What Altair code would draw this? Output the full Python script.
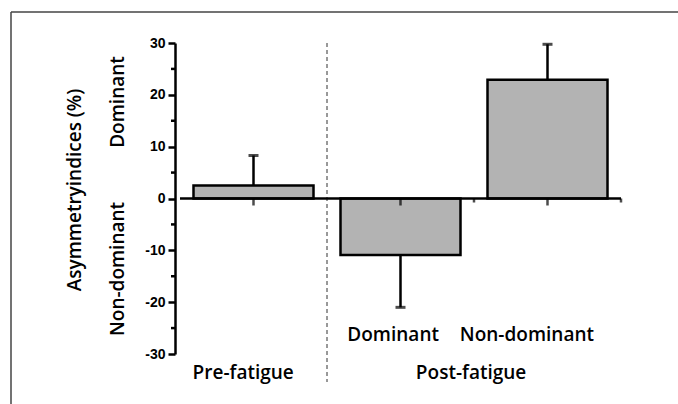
import altair as alt
import pandas as pd

# data
positions = [1, 2, 3]
groups = ["Pre-fatigue", "Post-fatigue", "Post-fatigue"]
sides = ["", "Dominant", "Non-dominant"]
values = [2.5, -10.9, 22.9]
errors = [5.8, 10.1, 6.85]
y_ticks = [-30, -20, -10, 0, 10, 20, 30]
y_minor = [-25, -15, -5, 5, 15, 25]
x_major = [1, 2, 3]
x_minor = [2.5, 3.5]
side_labels = ["Dominant", "Non-dominant"]
side_label_x = [1.95, 2.86]
group_labels = ["Pre-fatigue", "Post-fatigue"]
group_label_x = [0.93, 2.48]

err_end = [v + (e if v >= 0 else -e) for v, e in zip(values, errors)]
df = pd.DataFrame({"x": positions, "v": values, "e": err_end})

W, H = 451, 311
xs = alt.Scale(domain=[0.5, 3.5], nice=False, zero=False)
ys = alt.Scale(domain=[-30, 30], nice=False, zero=False)
FONT = "Open Sans"
FS = 19

base = alt.Chart(df)

yaxis = alt.Axis(values=y_ticks, labelExpr="'' + datum.value", labelFont="Liberation Sans",
                 labelFontWeight="bold", labelFontSize=14, labelColor="black", labelPadding=3,
                 tickSize=7, tickWidth=2.5, tickColor="black", domainColor="black",
                 domainWidth=2.5, grid=False, title=None)

err = base.mark_rule(color="black", strokeWidth=2.5).encode(
    x=alt.X("x:Q", scale=xs, axis=None),
    y=alt.Y("v:Q", scale=ys, axis=yaxis),
    y2="e:Q",
)
caps = base.mark_tick(color="black", orient="horizontal", size=10, thickness=3).encode(
    x=alt.X("x:Q"), y=alt.Y("e:Q")
)
bars = base.mark_bar(size=120, color="#b3b3b3", stroke="black", strokeWidth=2.5).encode(
    x=alt.X("x:Q"), y=alt.Y("v:Q"), y2=alt.datum(0)
)

xline = alt.Chart(pd.DataFrame({"a": [0.5], "b": [3.5], "z": [0]})).mark_rule(
    color="black", strokeWidth=2.5
).encode(x=alt.X("a:Q"), x2="b:Q", y=alt.Y("z:Q"))
xt_major = alt.Chart(pd.DataFrame({"x": x_major, "z": [0] * len(x_major)})).mark_tick(
    orient="vertical", size=7, thickness=2.5, color="black", yOffset=3.5
).encode(x=alt.X("x:Q"), y=alt.Y("z:Q"))
xt_minor = alt.Chart(pd.DataFrame({"x": x_minor, "z": [0] * len(x_minor)})).mark_tick(
    orient="vertical", size=4, thickness=2.5, color="black", yOffset=2
).encode(x=alt.X("x:Q"), y=alt.Y("z:Q"))
yt_minor = alt.Chart(pd.DataFrame({"y": y_minor})).mark_rule(color="black", strokeWidth=2.5).encode(
    y=alt.Y("y:Q"), x=alt.value(-4), x2=alt.value(0)
)

sep = alt.Chart(pd.DataFrame({"x": [1.5], "y": [30]})).mark_rule(
    color="#333333", strokeWidth=1, strokeDash=[4, 3]
).encode(x=alt.X("x:Q"), y=alt.Y("y:Q"), y2=alt.value(339))

top_df = pd.DataFrame({"x": side_label_x, "t": side_labels})
bot_df = pd.DataFrame({"x": group_label_x, "t": group_labels})
labs_top = alt.Chart(top_df).mark_text(
    font=FONT, fontWeight=600, fontSize=FS, color="black"
).encode(x=alt.X("x:Q"), y=alt.value(292), text="t:N")
labs_bot = alt.Chart(bot_df).mark_text(
    font=FONT, fontWeight=600, fontSize=FS, color="black"
).encode(x=alt.X("x:Q"), y=alt.value(330), text="t:N")

ytitle = alt.Chart(pd.DataFrame({"t": ["Asymmetryindices (%)"]})).mark_text(
    font=FONT, fontWeight=600, fontSize=FS, angle=270, color="black"
).encode(x=alt.value(-100), y=alt.value(147), text="t:N")
ydom = alt.Chart(pd.DataFrame({"t": ["Dominant"]})).mark_text(
    font=FONT, fontWeight=600, fontSize=FS, angle=270, color="black"
).encode(x=alt.value(-57), y=alt.value(59), text="t:N")
ynon = alt.Chart(pd.DataFrame({"t": ["Non-dominant"]})).mark_text(
    font=FONT, fontWeight=600, fontSize=FS, angle=270, color="black"
).encode(x=alt.value(-57), y=alt.value(226), text="t:N")

frame_l = alt.Chart(pd.DataFrame({"a": [0]})).mark_rule(color="#444444", strokeWidth=1.5).encode(
    x=alt.value(-164), y=alt.value(-31), y2=alt.value(365)
)
frame_t = alt.Chart(pd.DataFrame({"a": [0]})).mark_rule(color="#444444", strokeWidth=1.5).encode(
    x=alt.value(-164), x2=alt.value(505), y=alt.value(-31)
)

chart = alt.layer(
    err, bars, caps, frame_l, frame_t, sep, xline, xt_major, xt_minor, yt_minor,
    labs_top, labs_bot, ytitle, ydom, ynon
).properties(
    width=W, height=H,
    autosize=alt.AutoSizeParams(type="none"),
    padding={"left": 175, "top": 43, "right": 52, "bottom": 50},
).configure_view(stroke=None)

chart.save("out.html", embed_options={"renderer": "svg", "actions": False})
